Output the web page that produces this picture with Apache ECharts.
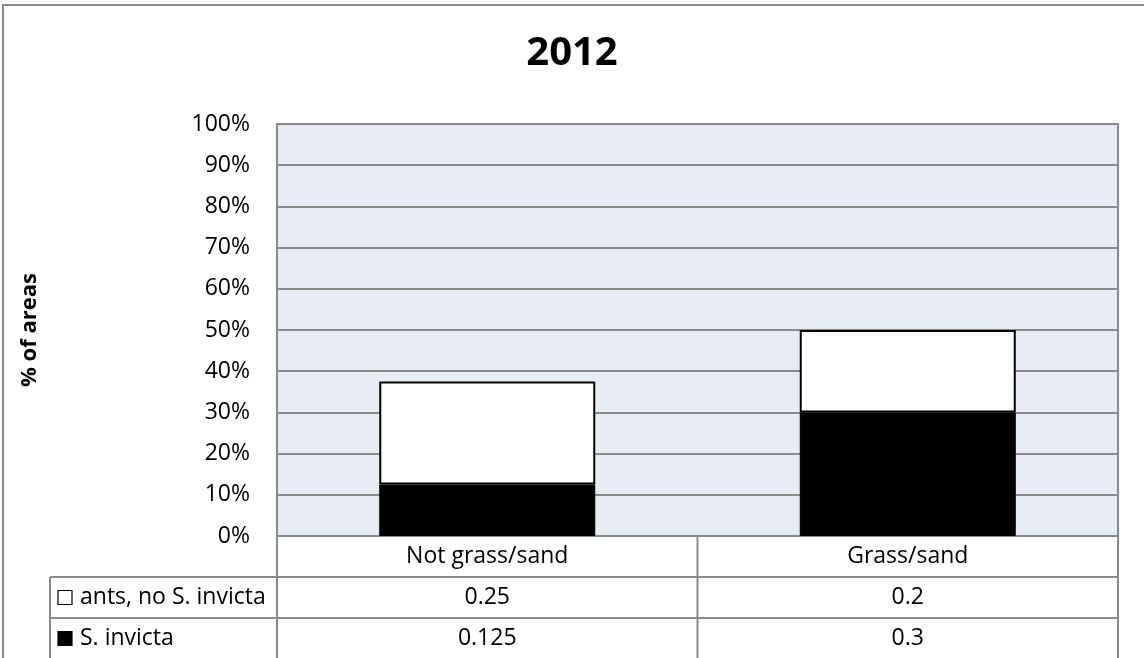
<!DOCTYPE html>
<html>
<head>
<meta charset="utf-8">
<script src="https://cdn.jsdelivr.net/npm/echarts@6/dist/echarts.min.js"></script>
<style>
html,body{margin:0;padding:0;background:#fff;}
#main{width:1144px;height:658px;}
</style>
</head>
<body>
<div id="main"></div>
<script>
const title = '2012';
const yAxisName = '% of areas';
const categories = ['Not grass/sand', 'Grass/sand'];
const seriesNames = ['ants, no S. invicta', 'S. invicta'];
const antsNoInvicta = [0.25, 0.2];
const invicta = [0.125, 0.3];
const yMin = 0, yMax = 1, yStep = 0.1;

const FONT = 'Open Sans';
const LINE = '#8a8a8a';
const ROW_H = 41;

const chart = echarts.init(document.getElementById('main'), null, {renderer: 'canvas'});

const option = {
  animation: false,
  backgroundColor: '#ffffff',
  title: {
    text: title,
    left: 'center',
    top: 29,
    textStyle: {fontFamily: FONT, fontSize: 40, fontWeight: 'bold', color: '#000'}
  },
  grid: {
    left: 277, right: 26, top: 124, bottom: 122,
    show: true,
    backgroundColor: '#E7ECF4',
    borderColor: LINE,
    borderWidth: 2
  },
  xAxis: {
    type: 'category',
    data: categories,
    axisLine: {show: true, lineStyle: {color: LINE, width: 2}},
    axisTick: {show: false},
    axisLabel: {
      margin: 0,
      interval: 0,
      formatter: function (val, idx) {
        return '{c|' + val + '}\n{c|' + antsNoInvicta[idx] + '}\n{c|' + invicta[idx] + '}';
      },
      rich: {
        c: {fontFamily: FONT, fontSize: 23, color: '#000', lineHeight: ROW_H, align: 'center'}
      }
    }
  },
  yAxis: {
    type: 'value',
    min: yMin, max: yMax, interval: yStep,
    name: yAxisName,
    nameLocation: 'middle',
    nameGap: 236,
    nameRotate: 90,
    nameTextStyle: {fontFamily: FONT, fontSize: 22, fontWeight: 'bold', color: '#000'},
    axisLine: {show: true, lineStyle: {color: LINE, width: 2}},
    axisTick: {show: false},
    axisLabel: {
      margin: 27,
      fontFamily: FONT, fontSize: 23, color: '#000',
      formatter: function (v) { return Math.round(v * 100) + '%'; }
    },
    splitLine: {show: true, lineStyle: {color: LINE, width: 2}}
  },
  series: [
    {
      name: seriesNames[1],
      type: 'bar',
      stack: 'total',
      barWidth: 216,
      data: invicta,
      itemStyle: {color: '#000', borderColor: '#000', borderWidth: 1}
    },
    {
      name: seriesNames[0],
      type: 'bar',
      stack: 'total',
      barWidth: 216,
      data: antsNoInvicta,
      itemStyle: {color: '#fff', borderColor: '#000', borderWidth: 2}
    }
  ]
};

chart.setOption(option);

// Build the data table frame and the series key column
const g = [];
const y0 = chart.convertToPixel({yAxisIndex: 0}, 0);
const centers = categories.map((c, i) => chart.convertToPixel({xAxisIndex: 0}, i));
const half = (centers.length > 1 ? (centers[1] - centers[0]) : 420) / 2;
const colEdges = [centers[0] - half].concat(centers.map(c => c + half));
const keyLeft = 50;
const bottomY = 700;
const row1 = y0 + ROW_H, row2 = y0 + 2 * ROW_H;

function line(x1, y1, x2, y2) {
  g.push({type: 'line', shape: {x1, y1, x2, y2}, style: {stroke: LINE, lineWidth: 2}, silent: true});
}
// outer chart border
g.push({type: 'rect', shape: {x: 3, y: 5, width: 1300, height: 800}, style: {fill: null, stroke: LINE, lineWidth: 2}, silent: true, z: 100});
colEdges.forEach(x => line(x, y0, x, bottomY));
line(keyLeft, row1, colEdges[colEdges.length - 1], row1);
line(keyLeft, row2, colEdges[colEdges.length - 1], row2);
line(keyLeft, row1, keyLeft, bottomY);

const keyFill = ['#fff', '#000'];
seriesNames.forEach((name, i) => {
  const cy = y0 + ROW_H * (i + 1) + ROW_H / 2;
  g.push({type: 'rect', shape: {x: 58, y: cy - 7, width: 14, height: 14},
          style: {fill: keyFill[i], stroke: '#000', lineWidth: 1.2}, silent: true});
  g.push({type: 'text', x: 80, y: cy,
          style: {text: name, fontFamily: FONT, fontSize: 23, fill: '#000', textVerticalAlign: 'middle', verticalAlign: 'middle'},
          silent: true});
});

chart.setOption({graphic: {elements: g}});
</script>
</body>
</html>
